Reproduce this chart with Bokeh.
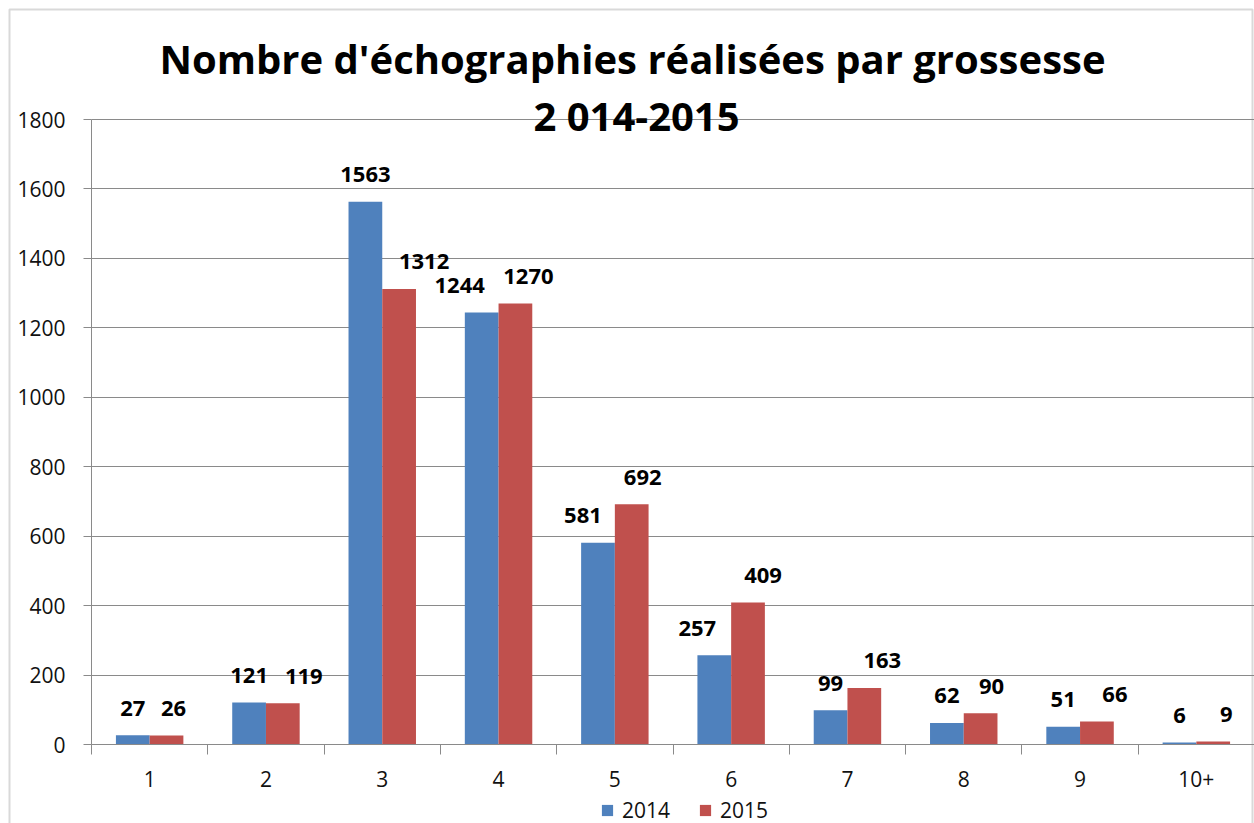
from bokeh.plotting import figure
from bokeh.models import (Range1d, FixedTicker, Label, Legend, LegendItem,
                          BoxAnnotation, ColumnDataSource, LinearAxis, Grid)
from bokeh.transform import dodge
from bokeh.embed import file_html
from bokeh.resources import INLINE

categories = ["1", "2", "3", "4", "5", "6", "7", "8", "9", "10+"]
series_2014 = [27, 121, 1563, 1244, 581, 257, 99, 62, 51, 6]
series_2015 = [26, 119, 1312, 1270, 692, 409, 163, 90, 66, 9]
y_ticks = [0, 200, 400, 600, 800, 1000, 1200, 1400, 1600, 1800]
series_names = ["2014", "2015"]
title_line1 = "Nombre d'échographies réalisées par grossesse"
title_line2 = "2 014-2015"

# ---- styles / layout ----
BLUE = "#4F81BD"
RED = "#C0504D"
GRID = "#8a8a8a"
FONT = "Open Sans"
label_dx_2014 = [0, 0, 0, -22, -15, -17, 0, 0, 0, 0]
label_dx_2015 = [7, 21, 25, 13, 11, 15, 18, 11, 18, 13]

W, H = 1254, 823
PX_LEFT, PX_RIGHT = 91, 1254      # plot area in page pixels
PX_Y0, PX_YTOP = 744, 119
ncat = len(categories)
ppu_x = (PX_RIGHT - PX_LEFT) / ncat
x_start = -0.5 - PX_LEFT / ppu_x
x_end = ncat - 0.5 + (W - PX_RIGHT) / ppu_x
ymax = y_ticks[-1]
ppu_y = (PX_Y0 - PX_YTOP) / ymax
y_start = -(H - PX_Y0) / ppu_y
y_end = ymax + PX_YTOP / ppu_y

xs = list(range(ncat))
src = ColumnDataSource(dict(
    x=xs, y14=series_2014, y15=series_2015,
    l14=[str(v) for v in series_2014], l15=[str(v) for v in series_2015],
    dx14=label_dx_2014, dx15=label_dx_2015,
))

p = figure(width=W, height=H, output_backend="svg", toolbar_location=None,
           x_range=Range1d(x_start, x_end), y_range=Range1d(y_start, y_end),
           x_axis_location=None, y_axis_location=None, min_border=0)
p.outline_line_color = None
p.background_fill_color = "white"
p.border_fill_color = "white"
p.xgrid.grid_line_color = None
p.ygrid.grid_line_color = None

# gridlines
grid_kw = dict(dimension=1, ticker=FixedTicker(ticks=y_ticks),
               grid_line_color=GRID, grid_line_width=1)
if "cross_bounds" in Grid.properties():
    grid_kw["cross_bounds"] = (-0.5, ncat - 0.5)
p.add_layout(Grid(**grid_kw))

bw = 0.29
r14 = p.vbar(x=dodge("x", -bw / 2, range=p.x_range), top="y14", width=bw,
             source=src, fill_color=BLUE, line_color=None)
r15 = p.vbar(x=dodge("x", bw / 2, range=p.x_range), top="y15", width=bw,
             source=src, fill_color=RED, line_color=None)

for col, lbl, dx, off in (("y14", "l14", "dx14", -bw / 2), ("y15", "l15", "dx15", bw / 2)):
    p.text(x=dodge("x", off, range=p.x_range), y=col, text=lbl, source=src,
           x_offset=dx, y_offset=-27, text_align="center",
           text_baseline="alphabetic", text_font_size="22px",
           text_font_style="bold", text_color="black",
           text_font={"value": FONT})

# x axis at y = 0
xa = LinearAxis(fixed_location=0, bounds=(-0.5, ncat - 0.5))
xa.ticker = FixedTicker(ticks=xs, minor_ticks=[i - 0.5 for i in range(ncat + 1)])
xa.major_label_overrides = {i: c for i, c in enumerate(categories)}
xa.major_tick_out = 0
xa.major_tick_in = 0
xa.minor_tick_out = 10
xa.minor_tick_in = 0
xa.minor_tick_line_color = GRID
xa.axis_line_color = GRID
xa.major_label_text_font = FONT
xa.major_label_text_font_size = "21px"
xa.major_label_text_color = "#111111"
xa.major_label_standoff = 16
p.add_layout(xa, "below")

# y axis at x = -0.5
ya = LinearAxis(fixed_location=-0.5, bounds=(0, ymax))
ya.ticker = FixedTicker(ticks=y_ticks)
ya.major_tick_out = 8
ya.major_tick_in = 0
ya.minor_tick_out = 0
ya.minor_tick_in = 0
ya.major_tick_line_color = GRID
ya.axis_line_color = GRID
ya.major_label_text_font = FONT
ya.major_label_text_font_size = "21px"
ya.major_label_text_color = "#111111"
ya.major_label_standoff = 18
p.add_layout(ya, "left")

# title (two lines)
for txt, x, yb in ((title_line1, 632, 58), (title_line2, 636, 115)):
    p.add_layout(Label(x=x, y=H - yb, x_units="screen", y_units="screen", text=txt,
                       text_align="center", text_baseline="alphabetic",
                       text_font=FONT, text_font_size="40px",
                       text_font_style="bold", text_color="black"))

legend = Legend(items=[LegendItem(label=series_names[0], renderers=[r14]),
                       LegendItem(label=series_names[1], renderers=[r15])],
                orientation="horizontal", location=(600, -1),
                glyph_width=14, glyph_height=14, label_standoff=8, spacing=28,
                padding=0, margin=0, border_line_color=None,
                background_fill_alpha=0, label_text_font=FONT,
                label_text_font_size="21px", label_text_color="#111111")
p.add_layout(legend)

# chart border
p.add_layout(BoxAnnotation(left=9, right=W - 2, top=H - 9, bottom=-50,
                           left_units="screen", right_units="screen",
                           top_units="screen", bottom_units="screen",
                           fill_alpha=0, line_color="#808080", line_width=2))

open("out.html", "w").write(file_html(p, INLINE))
